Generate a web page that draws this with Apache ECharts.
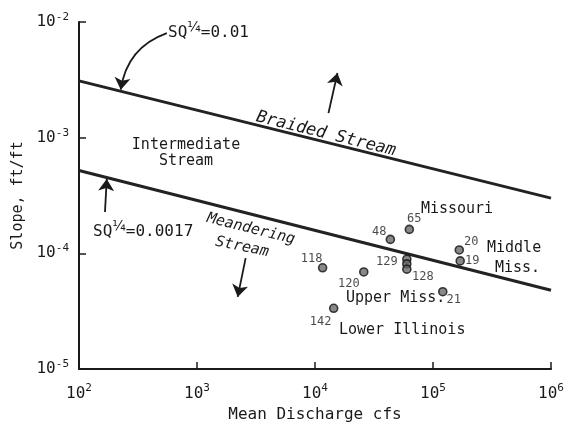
<!DOCTYPE html>
<html><head><meta charset="utf-8">
<script src="https://cdn.jsdelivr.net/npm/echarts@6/dist/echarts.min.js"></script>
<style>html,body{margin:0;padding:0;background:#fff}#c{width:564px;height:431px}</style>
</head><body><div id="c"></div>
<script>
// ---- data ----
const boundaryQ = [100, 1e6];
const braidedS = [3.1e-3, 3.0e-4];      // S Q^1/4 = 0.01
const meanderS = [5.2e-4, 4.8e-5];      // S Q^1/4 = 0.0017
const riverQ = [1.16e4, 2.59e4, 4.35e4, 6.3e4, 6.0e4, 6.0e4, 6.0e4, 1.67e5, 1.70e5, 1.21e5, 1.44e4];
const riverS = [7.5e-5, 6.9e-5, 1.32e-4, 1.61e-4, 8.9e-5, 8.1e-5, 7.3e-5, 1.07e-4, 8.6e-5, 4.66e-5, 3.35e-5];
const riverIds = ['118', '120', '48', '65', '129', '', '128', '20', '19', '21', '142'];
const xTickExps = [2, 3, 4, 5, 6];
const yTickExps = [-5, -4, -3, -2];

// annotation arrows (data coordinates: [Q, S] from -> to)
const arrowFrom = [[1.30e4, 1.63e-3], [166, 2.28e-4], [2583, 9.1e-5]];
const arrowTo   = [[1.55e4, 3.62e-3], [172, 4.4e-4], [2213, 4.2e-5]];
const leaderFrom = [555, 8.0e-3];
const leaderTo = [226, 2.6e-3];

// label placement (layout only)
const idOffsets = [[-11,-9],[-15,12],[-11,-8],[5,-11],[-20,3],[0,0],[16,8],[12,-8],[12,0],[11,8],[-13,14]];

const chart = echarts.init(document.getElementById('c'));
const FONT = 'DejaVu Sans Mono';
const ink = '#1a1a1a';

const expFmt = v => {
  const e = Math.round(Math.log10(v));
  return '{b|10}{s|' + e + '}';
};
const rich = {
  b: {fontSize: 16, fontFamily: FONT, color: ink},
  s: {fontSize: 11, fontFamily: FONT, color: ink, padding: [0, 0, 10, 0]}
};

const pts = riverQ.map((q, i) => ({
  value: [q, riverS[i]],
  label: {show: riverIds[i] !== '', formatter: riverIds[i], position: 'inside', offset: idOffsets[i],
          fontSize: 12, fontFamily: FONT, color: ink, textBorderWidth: 0}
}));

chart.setOption({
  animation: false,
  backgroundColor: '#fff',
  grid: {left: 79, right: 13, top: 22, bottom: 62, outerBoundsMode: 'none', containLabel: false},
  xAxis: {
    type: 'log', min: 100, max: 1e6, logBase: 10,
    axisLine: {lineStyle: {color: ink, width: 2}},
    axisTick: {inside: true, length: 7, lineStyle: {color: ink, width: 1.5}},
    splitLine: {show: false},
    axisLabel: {formatter: expFmt, rich: rich, margin: 14},
    name: 'Mean Discharge cfs', nameLocation: 'middle', nameGap: 38,
    nameTextStyle: {fontSize: 16, fontFamily: FONT, color: ink}
  },
  yAxis: {
    type: 'log', min: 1e-5, max: 1e-2, logBase: 10,
    axisLine: {lineStyle: {color: ink, width: 2}},
    axisTick: {inside: true, length: 7, lineStyle: {color: ink, width: 1.5}},
    splitLine: {show: false},
    axisLabel: {formatter: expFmt, rich: rich, margin: 10},
    name: 'Slope, ft/ft', nameLocation: 'middle', nameGap: 53, nameRotate: 90,
    nameTextStyle: {fontSize: 15, fontFamily: FONT, color: ink}
  },
  series: [
    {
      type: 'line', symbol: 'none', data: boundaryQ.map((q, i) => [q, braidedS[i]]),
      lineStyle: {color: '#222', width: 3}
    },
    {
      type: 'line', symbol: 'none', data: boundaryQ.map((q, i) => [q, meanderS[i]]),
      lineStyle: {color: '#222', width: 3}
    },
    {
      type: 'lines', coordinateSystem: 'cartesian2d', silent: true,
      symbol: ['none', 'arrow'], symbolSize: [9, 12],
      lineStyle: {color: ink, width: 1.8, opacity: 1, curveness: 0},
      data: arrowFrom.map((f, i) => ({coords: [f, arrowTo[i]]}))
    },
    {
      type: 'lines', coordinateSystem: 'cartesian2d', silent: true,
      symbol: ['none', 'arrow'], symbolSize: [9, 12],
      lineStyle: {color: ink, width: 1.8, opacity: 1, curveness: -0.3},
      data: [{coords: [leaderFrom, leaderTo]}]
    },
    {
      type: 'scatter', symbol: 'circle', symbolSize: 8, data: pts, z: 5,
      itemStyle: {color: '#6a6a6a', borderColor: '#111', borderWidth: 1.6}
    }
  ],
  graphic: [
    {type: 'text', x: 168, y: 33, style: {
      text: '{n|SQ}{f|¼}{n|=0.01}', textVerticalAlign: 'middle',
      rich: {n: {fontSize: 16, fontFamily: FONT, fill: ink}, f: {fontSize: 14, fontFamily: 'DejaVu Sans', fill: ink, padding: [0, 0, 12, 0]}}}},
    {type: 'text', x: 93, y: 232, style: {
      text: '{n|SQ}{f|¼}{n|=0.0017}', textVerticalAlign: 'middle',
      rich: {n: {fontSize: 16, fontFamily: FONT, fill: ink}, f: {fontSize: 14, fontFamily: 'DejaVu Sans', fill: ink, padding: [0, 0, 12, 0]}}}},
    {type: 'text', x: 186, y: 153, style: {text: 'Intermediate\nStream', align: 'center', verticalAlign: 'middle',
      fontSize: 15, lineHeight: 16, fontFamily: FONT, fill: ink}},
    {type: 'text', x: 326, y: 134, rotation: -0.243, style: {text: 'Braided Stream', align: 'center', verticalAlign: 'middle',
      fontSize: 17, fontFamily: FONT, fontStyle: 'italic', fill: ink}},
    {type: 'text', x: 251, y: 229, rotation: -0.245, style: {text: 'Meandering', align: 'center', verticalAlign: 'middle',
      fontSize: 15, fontFamily: FONT, fontStyle: 'italic', fill: ink}},
    {type: 'text', x: 242, y: 247, rotation: -0.2, style: {text: 'Stream', align: 'center', verticalAlign: 'middle',
      fontSize: 15, fontFamily: FONT, fontStyle: 'italic', fill: ink}},
    {type: 'text', x: 457, y: 209, style: {text: 'Missouri', align: 'center', verticalAlign: 'middle',
      fontSize: 15, fontFamily: FONT, fill: ink}},
    {type: 'text', x: 487, y: 248, style: {text: 'Middle', align: 'left', verticalAlign: 'middle',
      fontSize: 15, fontFamily: FONT, fill: ink}},
    {type: 'text', x: 495, y: 268, style: {text: 'Miss.', align: 'left', verticalAlign: 'middle',
      fontSize: 15, fontFamily: FONT, fill: ink}},
    {type: 'text', x: 346, y: 298, style: {text: 'Upper Miss.', align: 'left', verticalAlign: 'middle',
      fontSize: 15, fontFamily: FONT, fill: ink}},
    {type: 'text', x: 339, y: 330, style: {text: 'Lower Illinois', align: 'left', verticalAlign: 'middle',
      fontSize: 15, fontFamily: FONT, fill: ink}}
  ]
});
</script></body></html>
